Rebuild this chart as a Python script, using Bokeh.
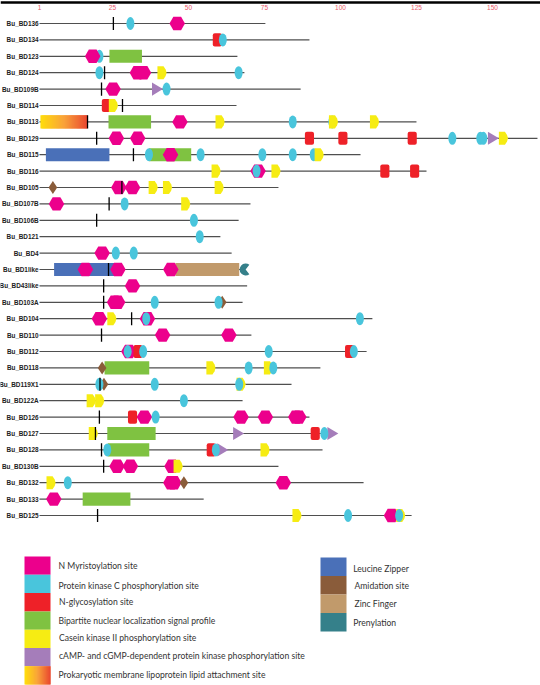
from bokeh.embed import file_html
from bokeh.io import curdoc
from bokeh.layouts import column
from bokeh.models import CustomJS, FixedTicker, LinearAxis, Range1d
from bokeh.plotting import figure
from bokeh.resources import INLINE

# ---- data (sequence positions) ----
proteins = ["Bu_BD136", "Bu_BD134", "Bu_BD123", "Bu_BD124", "Bu_BD109B", "Bu_BD114", "Bu_BD113", "Bu_BD129",
            "Bu_BD115", "Bu_BD116", "Bu_BD105", "Bu_BD107B", "Bu_BD106B", "Bu_BD121", "Bu_BD4", "Bu_BD1like",
            "Bu_BD43like", "Bu_BD103A", "Bu_BD104", "Bu_BD110", "Bu_BD112", "Bu_BD118", "Bu_BD119X1", "Bu_BD122A",
            "Bu_BD126", "Bu_BD127", "Bu_BD128", "Bu_BD130B", "Bu_BD132", "Bu_BD133", "Bu_BD125"]
lengths = [75.3, 89.8, 66.1, 68.4, 86.9, 65.8, 125, 164.8, 106.6, 128.3, 79.6, 70.4, 66.5, 60.5, 64.2, 68.5,
           69.3, 67.8, 110.5, 70.7, 108.6, 93.4, 83.9, 67.8, 89.8, 96, 94.1, 79.6, 107.6, 55, 123.4]
axis_ticks = [1, 25, 50, 75, 100, 125, 150]

cleavage = [("Bu_BD136", 25.3), ("Bu_BD124", 22.4), ("Bu_BD109B", 21.4), ("Bu_BD114", 28.3), ("Bu_BD113", 16.8),
            ("Bu_BD129", 19.8), ("Bu_BD115", 31.9), ("Bu_BD105", 28.1), ("Bu_BD107B", 23.9), ("Bu_BD106B", 19.8),
            ("Bu_BD1like", 23.7), ("Bu_BD43like", 22.1), ("Bu_BD103A", 22.1), ("Bu_BD104", 31.3), ("Bu_BD110", 21.4),
            ("Bu_BD119X1", 20.9), ("Bu_BD126", 20.7), ("Bu_BD127", 19.4), ("Bu_BD128", 21.4), ("Bu_BD130B", 22.1),
            ("Bu_BD125", 20.1)]

myristoylation = [("Bu_BD136", 46.3), ("Bu_BD123", 18.5), ("Bu_BD124", 33.2), ("Bu_BD124", 35.2), ("Bu_BD109B", 25.2),
                  ("Bu_BD113", 47.2), ("Bu_BD129", 26.3), ("Bu_BD129", 33.3), ("Bu_BD115", 44.1), ("Bu_BD116", 72.9),
                  ("Bu_BD105", 27.1), ("Bu_BD105", 31.6), ("Bu_BD107B", 6.6), ("Bu_BD4", 21.6), ("Bu_BD1like", 16.1),
                  ("Bu_BD1like", 26.8), ("Bu_BD1like", 44.2), ("Bu_BD43like", 31.6), ("Bu_BD103A", 25.7),
                  ("Bu_BD103A", 26.7), ("Bu_BD104", 20.7), ("Bu_BD104", 36.5), ("Bu_BD110", 41.5), ("Bu_BD110", 63.3),
                  ("Bu_BD112", 30.4), ("Bu_BD126", 35.5), ("Bu_BD126", 67.3), ("Bu_BD126", 75.3), ("Bu_BD126", 85.3),
                  ("Bu_BD126", 86.3), ("Bu_BD130B", 26.5), ("Bu_BD130B", 30.9), ("Bu_BD130B", 44.6), ("Bu_BD132", 44.2),
                  ("Bu_BD132", 45.2), ("Bu_BD132", 81.2), ("Bu_BD133", 5.7), ("Bu_BD125", 116.8)]

pkc_behind = [("Bu_BD123", 20.7), ("Bu_BD113", 97.3), ("Bu_BD115", 91.2)]
pkc = [("Bu_BD136", 30.9), ("Bu_BD134", 61.3), ("Bu_BD124", 20.7), ("Bu_BD124", 66.5), ("Bu_BD109B", 42.8),
       ("Bu_BD113", 84.3), ("Bu_BD129", 136.8), ("Bu_BD129", 146), ("Bu_BD129", 147), ("Bu_BD115", 37),
       ("Bu_BD115", 54), ("Bu_BD115", 74.3), ("Bu_BD115", 84.3), ("Bu_BD116", 72.4), ("Bu_BD107B", 29),
       ("Bu_BD106B", 51.8), ("Bu_BD121", 53.7), ("Bu_BD4", 26.1), ("Bu_BD4", 32), ("Bu_BD103A", 38.9),
       ("Bu_BD103A", 59.9), ("Bu_BD104", 36.1), ("Bu_BD104", 106.4), ("Bu_BD112", 30), ("Bu_BD112", 35.1),
       ("Bu_BD112", 76.4), ("Bu_BD112", 104.4), ("Bu_BD118", 69.8), ("Bu_BD118", 77.9), ("Bu_BD119X1", 20.7),
       ("Bu_BD119X1", 38.9), ("Bu_BD119X1", 66.7), ("Bu_BD122A", 48.5), ("Bu_BD126", 39.2), ("Bu_BD127", 94.7),
       ("Bu_BD128", 23.3), ("Bu_BD128", 59), ("Bu_BD132", 10.3), ("Bu_BD125", 102.5), ("Bu_BD125", 119.3)]

glycosylation = [("Bu_BD134", 59.5), ("Bu_BD114", 23), ("Bu_BD129", 89.8), ("Bu_BD129", 100.8), ("Bu_BD129", 123.6),
                 ("Bu_BD116", 114.6), ("Bu_BD116", 124.4), ("Bu_BD112", 33.4), ("Bu_BD112", 103), ("Bu_BD126", 31.6),
                 ("Bu_BD127", 91.7), ("Bu_BD128", 57.5)]

casein = [("Bu_BD124", 39.8), ("Bu_BD114", 23.8), ("Bu_BD113", 58.9), ("Bu_BD113", 96.2), ("Bu_BD113", 109.7),
          ("Bu_BD129", 152.1), ("Bu_BD115", 91.5), ("Bu_BD116", 57.6), ("Bu_BD116", 77.3), ("Bu_BD105", 36.9),
          ("Bu_BD105", 41.6), ("Bu_BD105", 58.6), ("Bu_BD107B", 47.6), ("Bu_BD104", 23.3), ("Bu_BD118", 55.9),
          ("Bu_BD118", 74.8), ("Bu_BD119X1", 65.8), ("Bu_BD122A", 16.5), ("Bu_BD122A", 19.3), ("Bu_BD127", 17.2),
          ("Bu_BD128", 73.7), ("Bu_BD130B", 45.1), ("Bu_BD132", 3.3), ("Bu_BD125", 84.2), ("Bu_BD125", 118.3)]

camp = [("Bu_BD109B", 38), ("Bu_BD129", 148.5), ("Bu_BD127", 64.7), ("Bu_BD127", 95.7), ("Bu_BD128", 59.5)]

amidation = [("Bu_BD105", 5.4), ("Bu_BD103A", 61.1), ("Bu_BD118", 21.6), ("Bu_BD119X1", 22.2), ("Bu_BD132", 48.5)]

prenylation = [("Bu_BD1like", 68.8)]

bipartite = [("Bu_BD123", 24, 34.7), ("Bu_BD113", 23.7, 37.7), ("Bu_BD115", 37, 50.9), ("Bu_BD118", 22.4, 37.1),
             ("Bu_BD127", 23.3, 39.2), ("Bu_BD128", 23.5, 37.1), ("Bu_BD133", 15.2, 30.9)]
leucine_zipper = [("Bu_BD115", 3.1, 24), ("Bu_BD1like", 5.8, 26)]
zinc_finger = [("Bu_BD1like", 45.7, 66.7)]
lipoprotein = [("Bu_BD113", 1.3, 16.7)]

legend_left = ["N Myristoylation site", "Protein kinase C phosphorylation site", "N-glycosylation site",
               "Bipartite nuclear localization signal profile", "Casein kinase II phosphorylation site",
               "cAMP- and cGMP-dependent protein kinase phosphorylation site",
               "Prokaryotic membrane lipoprotein lipid attachment site"]
legend_right = ["Leucine Zipper", "Amidation site", "Zinc Finger", "Prenylation"]

# ---- styles ----
MAGENTA, CYAN, RED, GREEN = "#ec008c", "#49c5dc", "#ee2128", "#7fc241"
YELLOW, PURPLE, BLUE, BROWN = "#f6ec13", "#a57dba", "#4a70b8", "#8a5c3a"
TAN, TEAL, PINK = "#c19a6b", "#35808a", "#e8596a"
LABEL_FONT = "Liberation Sans"
LEGEND_FONT = "Lato"
HALF = 0.40  # half height of a mark, in rows
row = {name: i for i, name in enumerate(proteins)}


def hexcol(a, b, t):
    ca = [int(a[i:i + 2], 16) for i in (1, 3, 5)]
    cb = [int(b[i:i + 2], 16) for i in (1, 3, 5)]
    return "#%02x%02x%02x" % tuple(round(x + (y - x) * t) for x, y in zip(ca, cb))


def gradient(t):
    if t < 0.5:
        return hexcol("#ffdc0c", "#f9a33a", t * 2)
    return hexcol("#f9a33a", "#ea4a30", (t - 0.5) * 2)


# ---- main chart ----
H_MAIN, H_LEG, W = 525, 160, 540
p = figure(width=W, height=H_MAIN, output_backend="svg", toolbar_location=None,
           x_range=Range1d(-11.83, 165.8), y_range=Range1d(30.61, -1.402),
           x_axis_location=None, y_axis_location=None, min_border=0)
p.grid.visible = False
p.outline_line_color = None
p.background_fill_color = "white"

xaxis = LinearAxis(ticker=FixedTicker(ticks=axis_ticks), fixed_location=-1.28,
                   axis_line_color="black", axis_line_width=2.5, major_tick_line_color=None,
                   minor_tick_line_color=None, major_label_text_color=PINK,
                   major_label_text_font=LABEL_FONT, major_label_text_font_size="6.5px",
                   major_label_standoff=-4)
p.add_layout(xaxis, "below")
yaxis = LinearAxis(ticker=FixedTicker(ticks=list(range(len(proteins)))),
                   major_label_overrides={i: n for i, n in enumerate(proteins)},
                   fixed_location=3.0, axis_line_color=None, major_tick_line_color=None,
                   minor_tick_line_color=None, major_label_text_color="#222222",
                   major_label_text_font=LABEL_FONT, major_label_text_font_size="6.4px",
                   major_label_text_font_style="bold", major_label_standoff=1)
p.add_layout(yaxis, "left")

p.segment(x0=[1] * len(lengths), x1=lengths, y0=[row[n] for n in proteins], y1=[row[n] for n in proteins],
          line_color="#4f4f4f", line_width=1.2)


def spans(items, color):
    p.quad(left=[s for _, s, _ in items], right=[e for _, _, e in items],
           bottom=[row[n] + HALF for n, _, _ in items], top=[row[n] - HALF for n, _, _ in items],
           fill_color=color, line_color=None)


def ovals(items):
    p.ellipse(x=[v for _, v in items], y=[row[n] for n, _ in items], width=8, height=13,
              width_units="screen", height_units="screen", fill_color=CYAN, line_color=None)


spans(bipartite, GREEN)
spans(leucine_zipper, BLUE)
spans(zinc_finger, TAN)
for n, s, e in lipoprotein:
    steps = 40
    w = (e - s) / steps
    p.quad(left=[s + i * w for i in range(steps)], right=[min(e, s + (i + 2) * w) for i in range(steps)],
           bottom=[row[n] + HALF] * steps, top=[row[n] - HALF] * steps,
           fill_color=[gradient(i / (steps - 1)) for i in range(steps)], line_color=None)

ovals(pkc_behind)
p.scatter(x=[v for _, v in myristoylation], y=[row[n] for n, _ in myristoylation], marker="hex", size=15.5,
          fill_color=MAGENTA, line_color=None)
p.quad(left=[v - 1.5 for _, v in glycosylation], right=[v + 1.5 for _, v in glycosylation],
       bottom=[row[n] + HALF for n, _ in glycosylation], top=[row[n] - HALF for n, _ in glycosylation],
       fill_color=RED, line_color=None, border_radius=2)
p.patches(xs=[[v, v + 2, v + 2.7, v + 3, v + 2.7, v + 2, v] for _, v in casein],
          ys=[[row[n] - HALF, row[n] - HALF, row[n] - 0.2, row[n], row[n] + 0.2, row[n] + HALF, row[n] + HALF]
              for n, _ in casein],
          fill_color=YELLOW, line_color=None)
p.patches(xs=[[v, v, v + 3.6] for _, v in camp],
          ys=[[row[n] - HALF, row[n] + HALF, row[n]] for n, _ in camp],
          fill_color=PURPLE, line_color=None)
p.scatter(x=[v for _, v in amidation], y=[row[n] for n, _ in amidation], marker="diamond", size=13,
          fill_color=BROWN, line_color=None)
ovals(pkc)
p.wedge(x=[v for _, v in prenylation], y=[row[n] for n, _ in prenylation], radius=6, radius_units="screen",
        start_angle=0.9, end_angle=-0.9, fill_color=TEAL, line_color=None)
p.segment(x0=[v for _, v in cleavage], x1=[v for _, v in cleavage],
          y0=[row[n] - HALF for n, _ in cleavage], y1=[row[n] + HALF for n, _ in cleavage],
          line_color="black", line_width=1.3)

# ---- legend panel ----
leg = figure(width=W, height=H_LEG, output_backend="svg", toolbar_location=None,
             x_range=Range1d(0, 540), y_range=Range1d(685, 525),
             x_axis_location=None, y_axis_location=None, min_border=0)
leg.grid.visible = False
leg.outline_line_color = None

SW1 = 18.3
left_colors = [MAGENTA, CYAN, RED, GREEN, YELLOW, PURPLE]
leg.quad(left=24, right=50, top=[556 + i * SW1 for i in range(6)], bottom=[556 + (i + 1) * SW1 for i in range(6)],
         fill_color=left_colors, line_color=None)
top7 = 556 + 6 * SW1
leg.quad(left=[24 + i for i in range(26)], right=[min(50, 26 + i) for i in range(26)], top=top7, bottom=top7 + SW1,
         fill_color=[gradient(i / 25) for i in range(26)], line_color=None)
leg.text(x=[58, 58, 58.5, 58, 58.5, 58.5, 58], y=[565.5, 585, 601, 620, 637, 655, 674], text=legend_left,
         text_font=LEGEND_FONT, text_font_size="8.6px", text_color="#333333", text_baseline="middle")

SW2 = 18.5
leg.quad(left=320, right=346, top=[557 + i * SW2 for i in range(4)], bottom=[557 + (i + 1) * SW2 for i in range(4)],
         fill_color=[BLUE, BROWN, TAN, TEAL], line_color=None)
leg.text(x=[352.7, 354, 354, 352.7], y=[568, 585, 603, 622], text=legend_right, text_font=LEGEND_FONT,
         text_font_size="8.6px", text_color="#333333", text_baseline="middle")

layout = column(p, leg, spacing=0)

# The SVG text ignores the glyph font here, so apply the family inside each plot's shadow root.
font_js = CustomJS(args=dict(label=LABEL_FONT, legend=LEGEND_FONT), code="""
function walk(root) {
  root.querySelectorAll('*').forEach(el => {
    if (el.shadowRoot) walk(el.shadowRoot);
    if (el.tagName.toLowerCase() === 'text') {
      const size = parseFloat(getComputedStyle(el).fontSize);
      el.style.fontFamily = "'" + (size > 8 ? legend : label) + "', sans-serif";
    }
  });
}
let n = 0;
const id = setInterval(() => { walk(document); if (++n > 40) clearInterval(id); }, 50);
""")
doc = curdoc()
doc.add_root(layout)
doc.js_on_event("document_ready", font_js)
open("out.html", "w").write(file_html(layout, INLINE))
